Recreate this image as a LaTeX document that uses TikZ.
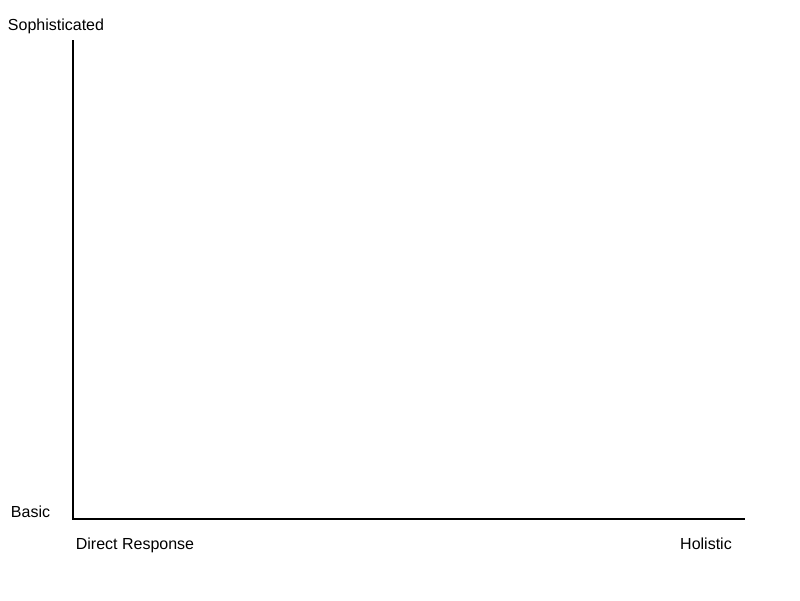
\documentclass[tikz,border=0pt]{standalone}
\usepackage{fontspec}
\setmainfont{Liberation Sans}
\begin{document}
\begin{tikzpicture}[x=1pt,y=-1pt,
  lbl/.style={inner sep=0pt,font=\fontsize{16}{19}\selectfont},
  axis/.style={line width=2pt,line join=miter}]
\useasboundingbox[fill=white] (0,0) rectangle (800,600);
\coordinate (top) at (73,40);
\coordinate (origin) at (73,519);
\coordinate (right) at (745,519);
\draw[axis] (top) -- (origin) -- (right);
\node[lbl] (soph) at (56,26.5) {Sophisticated};
\node[lbl] (basic) at (30.5,511.5) {Basic};
\node[lbl] (direct) at (135,545.5) {Direct Response};
\node[lbl] (holistic) at (706,544) {Holistic};
\end{tikzpicture}
\end{document}
